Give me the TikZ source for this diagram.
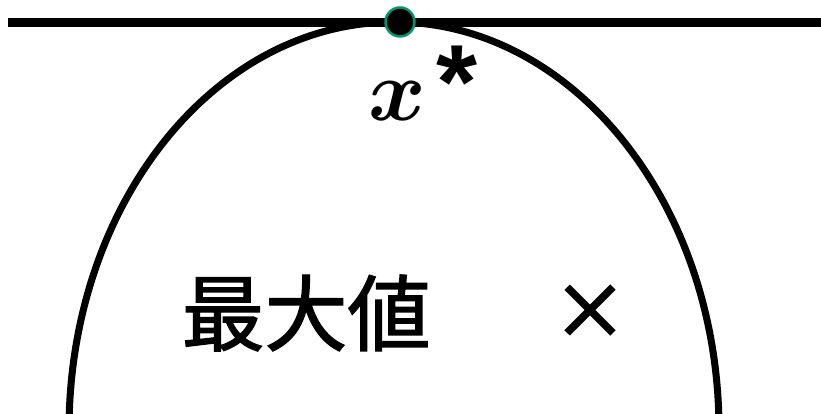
\documentclass[tikz,border=0pt]{standalone}
\usepackage{amsmath}
\usepackage{fontspec}
\newfontfamily\jpfont[FakeBold=1.6]{Noto Sans CJK JP}
\newfontfamily\starfont{Liberation Sans}
\usepackage{tikz}
\usetikzlibrary{positioning}
\definecolor{dotgreen}{RGB}{0,150,110}

\begin{document}
\begin{tikzpicture}[
    tangent/.style={line width=2.3pt},
    arch/.style={line width=2pt},
    optdot/.style={circle, fill=black, draw=dotgreen, line width=0.7pt, minimum size=0.29cm, inner sep=0pt}
  ]
  \useasboundingbox (0,0) rectangle (8.21,4.14);

  % Tangent line
  \coordinate (left) at (0.08,3.915);
  \coordinate (right) at (8.25,3.915);
  \draw[tangent] (left) -- (right);

  % Arch
  \coordinate (c) at (3.94,-0.16);
  \draw[arch] ([shift={(2:3.25 and 4.08)}]c) arc[start angle=2, end angle=178, x radius=3.25, y radius=4.08];

  % Optimum point
  \node[optdot] (opt) at (4.00,3.92) {};
  \node[font=\fontsize{30}{34}\selectfont, inner sep=0pt, anchor=base west] (xstar) at (3.68,2.93)
    {$\boldsymbol{x}$\hspace{0.1em}\raisebox{0.02em}{\starfont\bfseries\fontsize{30}{34}\selectfont *}};

  % Labels
  \node[font=\jpfont\fontsize{23.6}{28}\selectfont] (maxval) at (3.06,1.01) {最大値};
  \node[font=\jpfont\addfontfeature{FakeBold=3.5}\fontsize{21}{28}\selectfont] (cross) at (5.90,1.02) {×};
\end{tikzpicture}
\end{document}
